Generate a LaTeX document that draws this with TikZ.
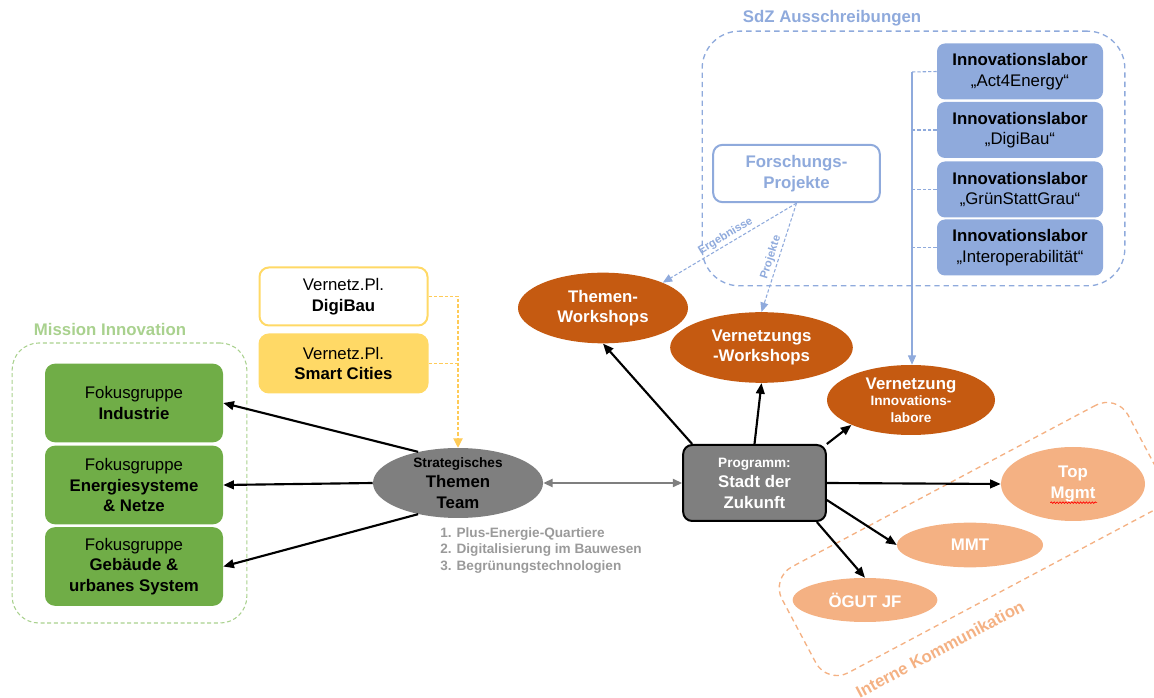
\documentclass[tikz,border=0pt]{standalone}
\usepackage{fontspec}
\setmainfont{Liberation Sans}
\usetikzlibrary{shapes.geometric,arrows.meta,decorations.pathmorphing}

\definecolor{fgreen}{HTML}{70AD47}
\definecolor{lgreen}{HTML}{A9D18E}
\definecolor{fyellow}{HTML}{FFD966}
\definecolor{fgray}{HTML}{7F7F7F}
\definecolor{lgray}{HTML}{9A9A9A}
\definecolor{dorange}{HTML}{C55A11}
\definecolor{lorange}{HTML}{F4B183}
\definecolor{fblue}{HTML}{8FAADC}

\newcommand{\fbig}{\fontsize{12.6}{15.4}\selectfont}
\newcommand{\fmid}{\fontsize{12.6}{15.5}\selectfont}
\newcommand{\fsmall}{\fontsize{10.2}{12.4}\selectfont}
\newcommand{\ftiny}{\fontsize{8.5}{10}\selectfont}

\tikzset{
  fokus/.style={rectangle, rounded corners=7.5pt, fill=fgreen, minimum width=133.5pt, minimum height=59pt, align=center, font=\fbig},
  vernetzpl/.style={rectangle, rounded corners=7pt, draw=fyellow, line width=1.5pt, minimum width=126pt, minimum height=43.5pt, align=center, font=\fbig},
  teamell/.style={ellipse, fill=fgray, inner sep=-6pt, minimum width=127.5pt, minimum height=52.5pt, align=center, font=\fbig\bfseries},
  progbox/.style={rectangle, rounded corners=6.75pt, fill=fgray, draw=black, line width=1.5pt, minimum width=107pt, minimum height=57pt, align=center, text=white, font=\fbig\bfseries},
  wsell/.style={ellipse, fill=dorange, inner sep=-5pt, align=center, text=white, font=\fbig\bfseries},
  komell/.style={ellipse, fill=lorange, inner sep=0pt, align=center, text=white, font=\fbig\bfseries},
  labbox/.style={rectangle, rounded corners=6pt, fill=fblue, minimum width=124.5pt, minimum height=42pt, inner sep=1pt, align=center, font=\fmid},
  forschbox/.style={rectangle, rounded corners=7pt, draw=fblue, fill=white, line width=1.5pt, minimum width=125pt, minimum height=43pt, align=center, text=fblue, font=\fbig\bfseries},
  grouplabel/.style={font=\fbig\bfseries, inner sep=0pt},
  arr/.style={-{Triangle[length=8pt,width=6.5pt]}, line width=1.6pt, black},
  grayarr/.style={{Triangle[length=7pt,width=6pt]}-{Triangle[length=7pt,width=6pt]}, line width=1.5pt, fgray},
  yline/.style={fyellow!85!orange, line width=0.8pt, dash pattern=on 2.5pt off 1.5pt},
  blueline/.style={fblue, line width=0.8pt, dash pattern=on 2.5pt off 1.5pt},
  bluetip/.style={-{Triangle[length=7pt,width=6pt]}},
  edgelabel/.style={font=\ftiny\bfseries, text=fblue, inner sep=1.5pt, sloped}
}

\begin{document}
\begin{tikzpicture}[x=0.75pt, y=-0.75pt]
  \useasboundingbox (0,0) rectangle (1154,698);

  % Rahmen
  \node[rectangle, rounded corners=20pt, draw=lgreen, dash pattern=on 3pt off 2pt, line width=0.8pt, minimum width=176pt, minimum height=210pt] (mibox) at (129.5,483) {};
  \node[grouplabel, text=lgreen] (milabel) at (110,329) {Mission Innovation};
  \node[rectangle, rounded corners=28pt, draw=fblue, dash pattern=on 4pt off 3pt, line width=1pt, minimum width=317pt, minimum height=191pt] (sdzbox) at (913.5,158.5) {};
  \node[grouplabel, text=fblue] (sdzlabel) at (832,18) {SdZ Ausschreibungen};
  \node[rectangle, rotate=28, rounded corners=18pt, draw=lorange, dash pattern=on 4pt off 3pt, line width=1pt, minimum width=294pt, minimum height=90pt] (kommbox) at (972,539) {};
  \node[grouplabel, text=lorange, rotate=28] (kommlabel) at (940,649) {Interne Kommunikation};

  % Fokusgruppen
  \node[fokus] (fg1) at (134,403) {Fokusgruppe\\\textbf{Industrie}};
  \node[fokus] (fg2) at (134,485) {Fokusgruppe\\\textbf{Energiesysteme}\\\textbf{\& Netze}};
  \node[fokus] (fg3) at (134,566.5) {Fokusgruppe\\\textbf{Gebäude \&}\\\textbf{urbanes System}};

  % Vernetzungsplattformen
  \node[vernetzpl, fill=white] (vdb) at (343.5,296.5) {Vernetz.Pl.\\\textbf{DigiBau}};
  \node[vernetzpl, fill=fyellow] (vsc) at (343.5,363.5) {Vernetz.Pl.\\\textbf{Smart Cities}};

  % Themen Team und Programm
  \node[teamell] (team) at (458,483) {{\fsmall Strategisches}\\Themen\\Team};
  \node[anchor=north west, inner sep=0pt, align=left, text=lgray, font=\fsmall\bfseries] (topics) at (440,527) {1. Plus-Energie-Quartiere\\2. Digitalisierung im Bauwesen\\3. Begrünungstechnologien};
  \node[progbox] (prog) at (754.5,483) {{\fsmall Programm:}\\Stadt der\\Zukunft};

  % Workshops
  \node[wsell, minimum width=127.5pt, minimum height=53pt] (tws) at (603,308) {Themen-\\Workshops};
  \node[wsell, minimum width=137pt, minimum height=53pt] (vws) at (761.5,347.5) {Vernetzungs\\-Workshops};
  \node[wsell, minimum width=126pt, minimum height=52.5pt, font=\fsmall\bfseries] (vil) at (911,400) {{\fbig Vernetzung}\\Innovations-\\labore};

  % Interne Kommunikation
  \node[komell, minimum width=108pt, minimum height=55.5pt] (top) at (1073,484) {Top\\Mgmt};
  \node[komell, minimum width=109.5pt, minimum height=33.5pt] (mmt) at (970,545) {MMT};
  \node[komell, minimum width=108.5pt, minimum height=33pt] (ogut) at (865,600) {ÖGUT JF};
  \draw[red, line width=0.5pt, decorate, decoration={snake, amplitude=0.6pt, segment length=2.2pt}] ([xshift=-17pt,yshift=-14pt]top.center) -- ([xshift=18pt,yshift=-14pt]top.center);

  % SdZ Ausschreibungen
  \node[forschbox] (forsch) at (796.5,173.5) {Forschungs-\\Projekte};
  \node[labbox] (lab1) at (1020,71.5) {\textbf{Innovationslabor}\\„Act4Energy“};
  \node[labbox] (lab2) at (1020,130) {\textbf{Innovationslabor}\\„DigiBau“};
  \node[labbox] (lab3) at (1020,189.5) {\textbf{Innovationslabor}\\„GrünStattGrau“};
  \node[labbox] (lab4) at (1020,247.5) {\textbf{Innovationslabor}\\„Interoperabilität“};

  % Verbindungen
  \draw[arr] (team.142) -- (fg1.east);
  \draw[arr] (team.west) -- (fg2.east);
  \draw[arr] (team.218) -- (fg3.east);
  \draw[yline] (vsc.east) -- (vsc.east -| team.north);
  \draw[yline, -{Triangle[length=7pt,width=7pt]}] (vdb.east) -| (team.north);
  \draw[grayarr] (team.east) -- (prog.west);
  \draw[arr] ([xshift=7.5pt]prog.north west) -- (tws.south);
  \draw[arr] (prog.north) -- (vws.south);
  \draw[arr] (prog.north east) -- (vil.south west);
  \draw[arr] (prog.east) -- (top.west);
  \draw[arr] ([yshift=-12.75pt]prog.east) -- (mmt.west);
  \draw[arr] ([xshift=-7.5pt]prog.south east) -- (ogut.north);
  \draw[blueline, bluetip] (forsch.south) -- node[edgelabel, above] (erglabel) {Ergebnisse} (tws.23);
  \draw[blueline, bluetip] (forsch.south) -- node[edgelabel, above, pos=0.52] (projlabel) {Projekte} (vws.north);

  % Innovationslabore zur Vernetzung
  \coordinate (bus) at (912,72);
  \draw[blueline] (lab1.west) -- (bus);
  \draw[blueline] (lab2.west) -- (lab2.west -| bus);
  \draw[blueline] (lab3.west) -- (lab3.west -| bus);
  \draw[blueline] (lab4.west) -- (lab4.west -| bus);
  \draw[fblue, line width=0.8pt, bluetip] (bus) -- (bus |- vil.north);
\end{tikzpicture}
\end{document}
